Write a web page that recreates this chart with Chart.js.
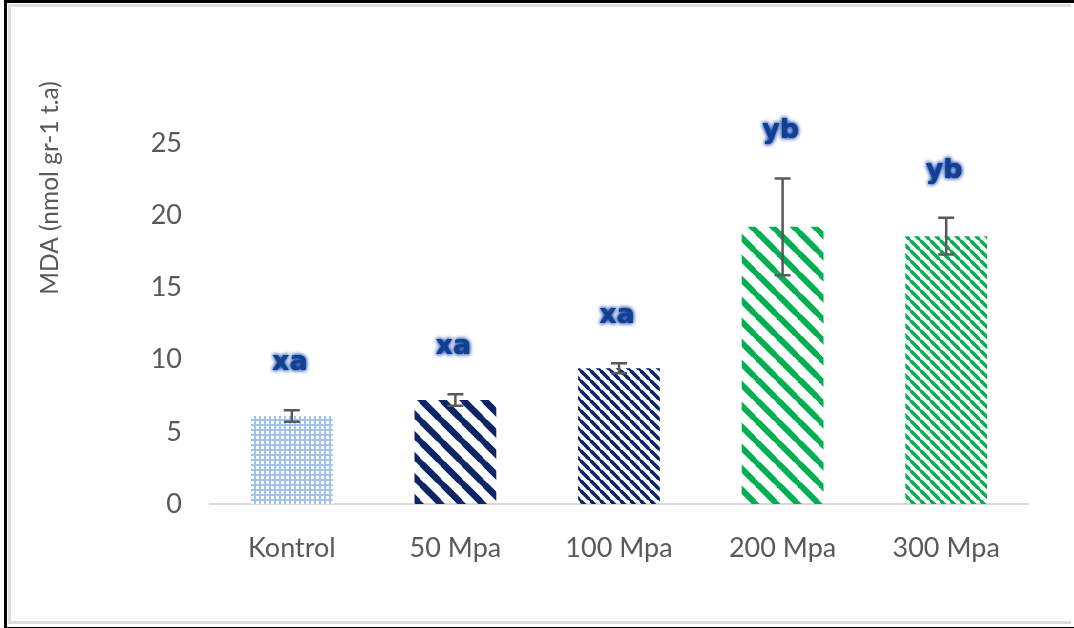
<!DOCTYPE html>
<html>
<head>
<meta charset="utf-8">
<script src="https://cdn.jsdelivr.net/npm/chart.js@4.4.1/dist/chart.umd.min.js"></script>
<style>
  html, body { margin: 0; padding: 0; background: #ffffff; }
  #wrap { position: relative; width: 1074px; height: 628px; overflow: hidden; }
  #c { position: absolute; left: 0; top: 0; }
  .frameOuter { position: absolute; left: 4px; top: 0px; width: 1067px; height: 624px;
    border-left: 3px solid #000; border-top: 3px solid #000; border-bottom: 3px solid #000;
    border-right: 3px solid #d9d9d9; pointer-events: none; box-sizing: content-box; }
  .frameInner { position: absolute; left: 8px; top: 4px; width: 1060px; height: 614px;
    border: 3px solid #dedede; border-right: none; pointer-events: none; box-sizing: content-box; }
</style>
</head>
<body>
<div id="wrap">
  <canvas id="c" width="1074" height="628"></canvas>
  <div class="frameOuter"></div>
  <div class="frameInner"></div>
</div>
<script>
// ---- data ----
const categories = ["Kontrol", "50 Mpa", "100 Mpa", "200 Mpa", "300 Mpa"];
const mdaValues = [6.1, 7.2, 9.4, 19.2, 18.55];
const mdaErrors = [0.4, 0.4, 0.35, 3.35, 1.27];
const letters = ["xa", "xa", "xa", "yb", "yb"];
const yTicks = [0, 5, 10, 15, 20, 25];
const yTitle = "MDA (nmol gr-1 t.a)";

// ---- patterns ----
function stripePattern(color, period, lw) {
  const c = document.createElement('canvas');
  c.width = period; c.height = period;
  const g = c.getContext('2d');
  g.strokeStyle = color; g.lineWidth = lw; g.lineCap = 'square';
  for (const k of [-1, 0, 1]) {
    g.beginPath();
    g.moveTo(k * period, 0);
    g.lineTo(k * period + period, period);
    g.stroke();
  }
  return g.createPattern(c, 'repeat');
}
function gridPattern(color) {
  const c = document.createElement('canvas');
  c.width = 5; c.height = 5;
  const g = c.getContext('2d');
  g.fillStyle = color; g.fillRect(0, 0, 5, 5);
  g.fillStyle = '#ffffff'; g.fillRect(1, 1, 3, 3);
  return g.createPattern(c, 'repeat');
}
const navy = '#0b2566';
const green = '#00b050';
const fills = [
  gridPattern('#a3c2ec'),
  stripePattern(navy, 21.6, 6.6),
  stripePattern(navy, 10.8, 3.6),
  stripePattern(green, 21.6, 6.0),
  stripePattern(green, 10.8, 3.4)
];

// ---- plugins ----
const extras = {
  id: 'extras',
  afterDatasetsDraw(chart) {
    const ctx = chart.ctx;
    const ys = chart.scales.y;
    const meta = chart.getDatasetMeta(0);
    meta.data.forEach((bar, i) => {
      const x = bar.x;
      const yTop = ys.getPixelForValue(mdaValues[i] + mdaErrors[i]);
      const yBot = ys.getPixelForValue(mdaValues[i] - mdaErrors[i]);
      ctx.save();
      ctx.strokeStyle = '#595959';
      ctx.lineWidth = 2.5;
      ctx.beginPath();
      ctx.moveTo(x, yTop); ctx.lineTo(x, yBot);
      ctx.moveTo(x - 8, yTop); ctx.lineTo(x + 8, yTop);
      ctx.moveTo(x - 8, yBot); ctx.lineTo(x + 8, yBot);
      ctx.stroke();
      // letters
      ctx.font = 'bold 27px "DejaVu Sans"';
      ctx.textAlign = 'center';
      ctx.textBaseline = 'alphabetic';
      ctx.fillStyle = '#123f8f';
      ctx.shadowColor = 'rgba(20,70,170,1)';
      ctx.shadowBlur = 4;
      ctx.fillText(letters[i], x - 2, yTop - 40);
      ctx.fillText(letters[i], x - 2, yTop - 40);
      ctx.restore();
    });
    // y title
    ctx.save();
    ctx.translate(50, 188);
    ctx.rotate(-Math.PI / 2);
    ctx.font = '24.5px Lato';
    ctx.fillStyle = '#595959';
    ctx.textAlign = 'center';
    ctx.textBaseline = 'middle';
    ctx.fillText(yTitle, 0, 0);
    ctx.restore();
  }
};

new Chart(document.getElementById('c'), {
  type: 'bar',
  data: {
    labels: categories,
    datasets: [{
      data: mdaValues,
      backgroundColor: fills,
      borderWidth: 0,
      barPercentage: 0.5,
      categoryPercentage: 1.0
    }]
  },
  options: {
    responsive: false,
    animation: false,
    devicePixelRatio: 1,
    layout: { padding: { left: 0, top: 143, right: 46, bottom: 0 } },
    plugins: { legend: { display: false }, tooltip: { enabled: false } },
    scales: {
      x: {
        grid: { display: false, drawTicks: false },
        border: { display: true, color: '#d9d9d9', width: 2 },
        ticks: { font: { family: 'Lato', size: 27 }, color: '#595959', padding: 28, maxRotation: 0 },
        afterFit(s) { s.height = 124; }
      },
      y: {
        min: 0, max: 25,
        afterBuildTicks(s) { s.ticks = yTicks.map(v => ({ value: v })); },
        grid: { display: false, drawTicks: false },
        border: { display: false },
        ticks: { font: { family: 'Lato', size: 27 }, color: '#595959', padding: 28 },
        afterFit(s) { s.width = 210; }
      }
    }
  },
  plugins: [extras]
});
</script>
</body>
</html>
